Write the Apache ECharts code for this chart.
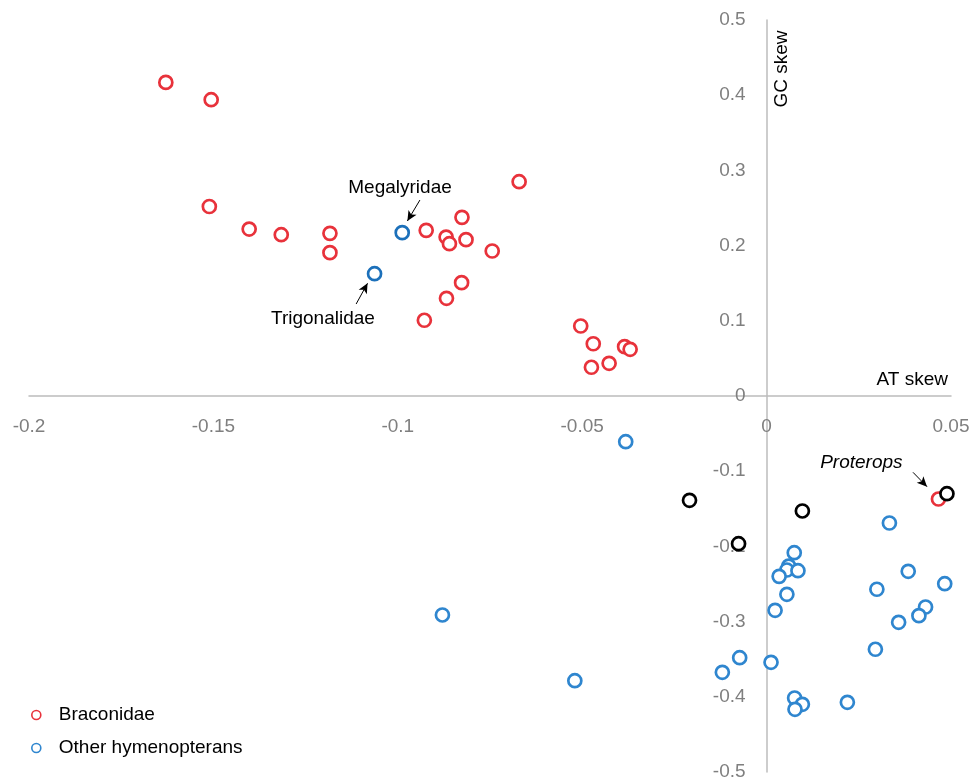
<!DOCTYPE html>
<html>
<head>
<meta charset="utf-8">
<script src="https://cdn.jsdelivr.net/npm/echarts@6/dist/echarts.min.js"></script>
<style>
html,body{margin:0;padding:0;background:#fff;}
#chart{width:971px;height:780px;}
</style>
</head>
<body>
<div id="chart"></div>
<script>
// ---- data (AT skew, GC skew) ----
var braconidae = [
  [-0.1629, 0.417], [-0.1506, 0.394], [-0.1511, 0.252], [-0.1403, 0.222],
  [-0.1316, 0.2145], [-0.1184, 0.2163], [-0.1184, 0.1906], [-0.0923, 0.2203],
  [-0.0826, 0.2376], [-0.0869, 0.2114], [-0.0860, 0.2025], [-0.0815, 0.2079],
  [-0.0744, 0.1928], [-0.0671, 0.285], [-0.0827, 0.1507], [-0.0868, 0.1299],
  [-0.0928, 0.1007], [-0.0504, 0.0931], [-0.0470, 0.0695], [-0.0385, 0.0656],
  [-0.0370, 0.0621], [-0.0427, 0.0435], [-0.0475, 0.0382], [0.0466, -0.137]
];
var otherHymenopterans = [
  [-0.0382, -0.0608], [-0.0879, -0.2912], [-0.0520, -0.3786],
  [0.0333, -0.1689], [0.0075, -0.2084], [0.0060, -0.2261], [0.0055, -0.2314],
  [0.0085, -0.2323], [0.0034, -0.2398], [0.0055, -0.2637], [0.0023, -0.285],
  [0.0384, -0.2331], [0.0483, -0.2496], [0.0299, -0.257], [0.0431, -0.2806],
  [0.0413, -0.2921], [0.0358, -0.3009], [0.0295, -0.3368], [-0.0073, -0.348],
  [0.0012, -0.3541], [-0.0120, -0.3674], [0.0076, -0.4016], [0.0097, -0.41],
  [0.0077, -0.4166], [0.0219, -0.4073]
];
var labelledOthers = [ [-0.0988, 0.2172], [-0.1063, 0.1626] ];
var highlighted = [ [-0.0209, -0.1387], [-0.0076, -0.1964], [0.0097, -0.1529], [0.0489, -0.1299] ];
// annotation text positions and arrows (data units)
var annotTexts = [
  [-0.0994, 0.2773, 'Megalyridae', 'normal'],
  [-0.1203, 0.1031, 'Trigonalidae', 'normal'],
  [0.0257, -0.0885, 'Proterops', 'italic']
];
var annotArrows = [
  [[-0.0940, 0.2606], [-0.0974, 0.2327]],
  [[-0.1113, 0.1223], [-0.1082, 0.1499]],
  [[0.0397, -0.1015], [0.0435, -0.1206]]
];
var xTicks = { min: -0.2, max: 0.05, interval: 0.05 };
var yTicks = { min: -0.5, max: 0.5, interval: 0.1 };
var seriesNames = ['Braconidae', 'Other hymenopterans'];

var RED = '#e8323b', BLUE = '#2f86cf', DBLUE = '#1c70ba', FONT = 'Liberation Sans, Arial, sans-serif';
var W = 971, H = 780;
var G = { left: 29, right: 20, top: 20, bottom: 8 };
var gw = W - G.left - G.right, gh = H - G.top - G.bottom;
// put each axis through zero of the other axis
var xOffset = -gh * (0 - yTicks.min) / (yTicks.max - yTicks.min);
var yOffset = -gw * (0 - xTicks.min) / (xTicks.max - xTicks.min);

var chart = echarts.init(document.getElementById('chart'));
function ring(color) {
  return { color: '#fff', borderColor: color, borderWidth: 2.7, opacity: 1 };
}
chart.setOption({
  animation: false,
  backgroundColor: '#fff',
  grid: { left: G.left, right: G.right, top: G.top, bottom: G.bottom, containLabel: false, outerBoundsMode: 'none' },
  xAxis: {
    type: 'value', min: xTicks.min, max: xTicks.max, interval: xTicks.interval,
    position: 'bottom', offset: xOffset,
    axisLine: { onZero: false, lineStyle: { color: '#bcbcbc', width: 1.5 } },
    axisTick: { show: false }, splitLine: { show: false },
    axisLabel: { color: '#7f7f7f', fontSize: 19, fontFamily: FONT, margin: 21 }
  },
  yAxis: {
    type: 'value', min: yTicks.min, max: yTicks.max, interval: yTicks.interval,
    position: 'left', offset: yOffset,
    axisLine: { onZero: false, lineStyle: { color: '#bcbcbc', width: 1.5 } },
    axisTick: { show: false }, splitLine: { show: false },
    axisLabel: { color: '#7f7f7f', fontSize: 19, fontFamily: FONT, margin: 21 }
  },
  legend: {
    orient: 'vertical', left: 26, top: 699, itemWidth: 9, itemHeight: 9, itemGap: 11,
    selectedMode: false,
    textStyle: { color: '#000', fontSize: 19, fontFamily: FONT, lineHeight: 22, padding: [0, 0, 0, 13] },
    data: [
      { name: seriesNames[0], icon: 'circle', itemStyle: { color: '#fff', borderColor: RED, borderWidth: 1.6 } },
      { name: seriesNames[1], icon: 'circle', itemStyle: { color: '#fff', borderColor: BLUE, borderWidth: 1.6 } }
    ]
  },
  graphic: [
    { type: 'text', right: 23, top: 370, style: { text: 'AT skew', fill: '#000', font: '19px ' + FONT } },
    { type: 'text', x: 782, y: 69, rotation: Math.PI / 2,
      style: { text: 'GC skew', fill: '#000', font: '19px ' + FONT, align: 'center', verticalAlign: 'middle' } }
  ],
  series: [
    { name: seriesNames[1], type: 'scatter', symbol: 'circle', symbolSize: 13, data: otherHymenopterans, itemStyle: ring(BLUE) },
    { name: seriesNames[1], type: 'scatter', symbol: 'circle', symbolSize: 13, data: labelledOthers, itemStyle: ring(DBLUE) },
    { name: seriesNames[0], type: 'scatter', symbol: 'circle', symbolSize: 13, data: braconidae, itemStyle: ring(RED) },
    { name: 'Highlighted', type: 'scatter', symbol: 'circle', symbolSize: 13, data: highlighted, itemStyle: ring('#000') },
    {
      name: 'Annotations', type: 'scatter', symbolSize: 0, silent: true,
      itemStyle: { color: '#fff', opacity: 1 },
      data: annotTexts.map(function (a) {
        return { value: [a[0], a[1]], label: { show: true, position: 'inside', formatter: a[2],
          color: '#000', opacity: 1, textBorderWidth: 0, fontSize: 19, fontFamily: FONT, fontStyle: a[3] } };
      }),
      markLine: {
        silent: true, animation: false,
        symbol: ['none', 'arrow'], symbolSize: [7, 10],
        label: { show: false },
        lineStyle: { color: '#000', width: 1, type: 'solid', opacity: 1 },
        emphasis: { disabled: true },
        data: annotArrows.map(function (ar) {
          return [{ coord: ar[0] }, { coord: ar[1] }];
        })
      }
    }
  ]
});
</script>
</body>
</html>
